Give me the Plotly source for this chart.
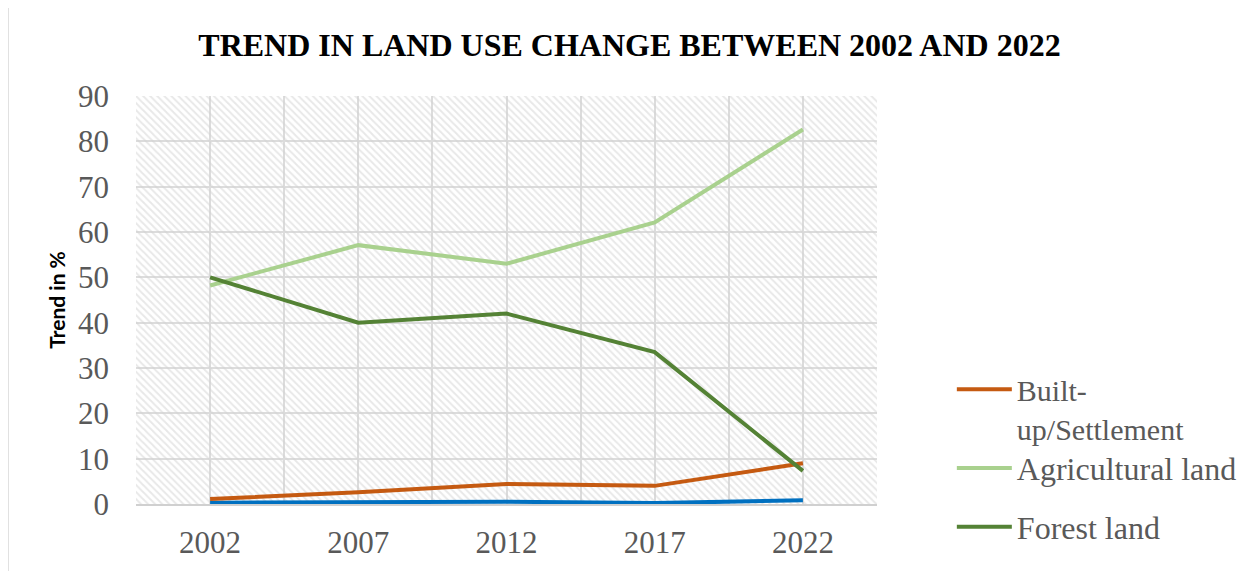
import plotly.graph_objects as go

years = [2002, 2007, 2012, 2017, 2022]
built_up = [1.1, 2.6, 4.4, 4.0, 9.0]
agricultural = [48.2, 57.1, 53.0, 62.1, 82.6]
forest = [50.0, 40.0, 42.0, 33.5, 7.3]
water = [0.3, 0.3, 0.5, 0.2, 0.8]

series = [
    ("Water body", water, "#0070C0", None),
    ("Built-<br>up/Settlement", built_up, "#C55A11", "legend"),
    ("Agricultural land", agricultural, "#A9D18E", "legend2"),
    ("Forest land", forest, "#548235", "legend3"),
]

fig = go.Figure()

# hatched plot-area background on hidden main axes
fig.add_trace(go.Bar(
    x=[0.5], y=[1], width=[1], xaxis="x", yaxis="y",
    marker=dict(color="rgba(0,0,0,0)", line=dict(width=0),
                pattern=dict(shape="\\", fgcolor="#d2d2d2", bgcolor="rgba(255,255,255,0)",
                             size=5, solidity=0.4)),
    showlegend=False, hoverinfo="skip",
))

for name, vals, color, leg in series:
    kw = dict(showlegend=False) if leg is None else dict(showlegend=True, legend=leg)
    fig.add_trace(go.Scatter(
        x=years, y=vals, name=name, mode="lines",
        line=dict(color=color, width=4),
        xaxis="x2", yaxis="y2", **kw,
    ))

serif = "Liberation Serif"
legcommon = dict(xanchor="left", bgcolor="rgba(0,0,0,0)", itemwidth=55, valign="top")

fig.update_layout(
    width=1253, height=571,
    font=dict(family=serif, color="#595959"),
    margin=dict(l=128, r=384, t=88, b=75),
    paper_bgcolor="white", plot_bgcolor="white",
    title=dict(text="<b>TREND IN LAND USE CHANGE BETWEEN 2002 AND 2022</b>",
               x=0.496, xanchor="center", y=0.935, yanchor="middle",
               font=dict(family=serif, size=32, color="black")),
    xaxis=dict(range=[0, 1], visible=False, fixedrange=True),
    yaxis=dict(range=[0, 1], visible=False, fixedrange=True),
    xaxis2=dict(overlaying="x", anchor="y2", range=[1999.5, 2024.5],
                tickvals=years, ticktext=[str(y) for y in years],
                showgrid=True, gridcolor="#dcdcdc", gridwidth=1.5,
                minor=dict(dtick=5, tick0=1999.5, showgrid=True, gridcolor="#dcdcdc", gridwidth=1.5),
                showline=True, linecolor="#d0d0d0", linewidth=1.5,
                ticks="", tickfont=dict(family=serif, size=31, color="#595959"),
                ticklabelstandoff=10, zeroline=False),
    yaxis2=dict(overlaying="y", anchor="x2", range=[0, 90], dtick=10,
                showgrid=True, gridcolor="#dcdcdc", gridwidth=1.5,
                showline=False, ticks="", zeroline=False,
                tickfont=dict(family=serif, size=31, color="#595959"),
                ticklabelstandoff=26,
                title=dict(text="<b>Trend in %</b>", standoff=6,
                           font=dict(family="Lato", size=21, color="black"))),
    legend=dict(x=1.101, y=0.345, yanchor="top",
                font=dict(family=serif, size=30, color="#595959"), **legcommon),
    legend2=dict(x=1.101, y=0.088, yanchor="middle",
                 font=dict(family=serif, size=32, color="#595959"), **legcommon),
    legend3=dict(x=1.101, y=-0.056, yanchor="middle",
                 font=dict(family=serif, size=32, color="#595959"), **legcommon),
    bargap=0,
    shapes=[dict(type="line", xref="paper", yref="paper", x0=-0.1727, x1=-0.1727, y0=-0.3, y1=1.3,
                 line=dict(color="#d9d9d9", width=1.5))],
)

fig.write_html("out.html")
